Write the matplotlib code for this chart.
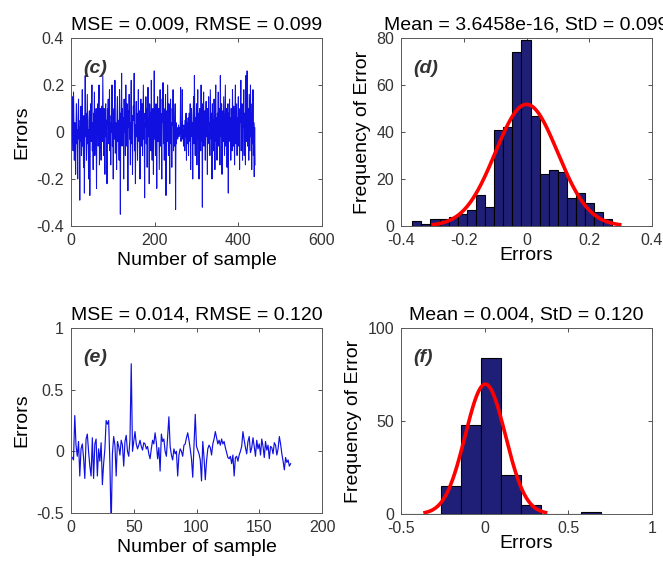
import numpy as np
import matplotlib
matplotlib.use("Agg")
import matplotlib.pyplot as plt

plt.rcParams['font.family'] = ['Liberation Sans', 'DejaVu Sans']
plt.rcParams['axes.unicode_minus'] = False

# ---------------- data ----------------
# (c) errors, 440 samples
c_err = [
    0.17, -0.02, 0.15, 0.01, -0.08, 0.17, 0.02, -0.12, 0.04, -0.01,
    -0.18, 0.03, 0.12, -0.05, 0.01, -0.20, 0.06, 0.14, -0.03, 0.02,
    -0.29, 0.05, -0.04, 0.11, -0.10, 0.02, 0.18, -0.06, 0.00, -0.15,
    0.07, -0.26, 0.04, 0.24, -0.02, 0.08, -0.12, 0.03, 0.16, -0.05,
    0.01, -0.20, 0.05, 0.09, -0.27, 0.03, 0.12, -0.04, 0.06, 0.20,
    -0.08, 0.04, -0.16, 0.08, 0.02, 0.17, -0.10, 0.06, -0.02, 0.10,
    -0.24, 0.07, 0.00, 0.12, -0.06, 0.09, 0.20, -0.14, 0.05, 0.10,
    0.02, -0.12, 0.11, 0.06, -0.04, 0.24, 0.08, -0.10, 0.10, 0.03,
    -0.18, 0.09, 0.12, -0.02, 0.05, -0.22, 0.10, 0.04, 0.14, -0.05,
    0.02, 0.18, -0.08, 0.04, -0.14, 0.07, 0.00, 0.20, -0.06, 0.03,
    -0.20, 0.06, 0.10, -0.03, 0.22, -0.09, 0.04, 0.01, -0.16, 0.08,
    0.15, -0.04, 0.03, 0.05, -0.12, 0.18, 0.02, -0.35, 0.08, 0.04,
    0.25, -0.06, 0.10, -0.02, 0.06, -0.20, 0.14, 0.00, 0.08, -0.10,
    0.20, 0.03, -0.06, 0.12, 0.05, -0.25, 0.09, 0.02, 0.16, -0.03,
    0.04, -0.14, 0.10, 0.22, -0.05, 0.07, -0.18, 0.02, 0.11, 0.05,
    0.25, -0.08, 0.03, -0.22, 0.06, 0.13, -0.02, 0.08, -0.12, 0.04,
    0.18, -0.04, 0.02, 0.09, -0.20, 0.05, 0.14, -0.06, 0.00, 0.12,
    -0.10, 0.06, 0.20, -0.03, 0.04, -0.28, 0.08, 0.02, 0.15, -0.05,
    0.10, -0.15, 0.04, 0.19, -0.02, 0.06, -0.22, 0.12, 0.03, 0.08,
    -0.08, 0.22, 0.02, -0.12, 0.05, 0.10, -0.18, 0.04, 0.26, -0.03,
    0.06, -0.10, 0.12, 0.02, -0.24, 0.08, 0.15, -0.04, 0.05, 0.10,
    -0.16, 0.03, 0.18, -0.06, 0.08, 0.02, -0.20, 0.14, 0.04, 0.21,
    -0.05, 0.10, -0.12, 0.06, 0.03, 0.16, -0.27, 0.05, 0.09, -0.04,
    0.20, 0.06, -0.10, 0.12, 0.02, -0.22, 0.08, 0.14, -0.05, 0.04,
    -0.15, 0.10, 0.03, 0.18, -0.08, 0.05, -0.06, 0.02, 0.12, -0.33,
    0.04, -0.05, 0.02, 0.01, -0.03, 0.00, 0.03, -0.02, 0.02, -0.01,
    0.01, 0.19, -0.04, 0.02, -0.02, 0.18, -0.03, 0.01, -0.06, 0.03,
    0.02, -0.08, 0.05, -0.02, 0.08, -0.12, 0.04, 0.00, -0.05, 0.06,
    -0.10, 0.08, 0.02, -0.04, 0.12, -0.16, 0.05, 0.10, -0.02, 0.04,
    -0.20, 0.07, 0.15, -0.05, 0.24, 0.03, -0.10, 0.06, 0.00, 0.12,
    -0.14, 0.05, 0.18, -0.03, 0.08, -0.20, 0.02, 0.10, 0.04, -0.08,
    0.20, -0.04, 0.06, -0.32, 0.12, 0.02, 0.17, -0.06, 0.04, 0.09,
    -0.12, 0.05, 0.13, -0.02, 0.07, -0.18, 0.10, 0.03, 0.15, -0.05,
    0.04, -0.10, 0.18, 0.06, -0.03, 0.08, -0.20, 0.12, 0.02, 0.05,
    -0.08, 0.14, 0.03, -0.16, 0.10, 0.20, -0.04, 0.06, -0.12, 0.08,
    0.02, 0.17, -0.06, 0.04, 0.10, -0.14, 0.24, 0.05, -0.02, 0.12,
    -0.18, 0.06, 0.09, -0.04, 0.15, 0.02, -0.10, 0.07, 0.20, -0.06,
    0.04, 0.10, -0.15, 0.05, 0.12, -0.26, 0.08, 0.02, 0.14, -0.04,
    0.06, -0.12, 0.10, 0.04, -0.08, 0.18, 0.02, -0.06, 0.11, 0.03,
    -0.14, 0.07, 0.20, -0.05, 0.04, 0.12, -0.10, 0.06, 0.00, 0.15,
    -0.06, 0.08, -0.16, 0.10, 0.04, 0.22, -0.08, 0.05, 0.12, -0.12,
    0.06, 0.02, 0.18, -0.10, 0.08, 0.03, -0.14, 0.24, 0.05, -0.04,
    0.26, -0.06, 0.10, 0.02, -0.12, 0.16, 0.04, -0.08, 0.20, -0.02,
    0.08, -0.16, 0.12, -0.05, 0.18, -0.10, 0.04, -0.19, 0.02, -0.14,
]

# (e) errors, 175 samples
e_err = [
    -0.05, -0.07, 0.29, 0.05, -0.04, 0.08, -0.20, 0.02, 0.06, -0.05,
    -0.22, 0.10, 0.14, 0.00, -0.12, -0.20, 0.11, -0.22, 0.06, 0.10,
    -0.20, 0.02, -0.08, 0.07, -0.27, -0.10, 0.02, 0.25, 0.22, 0.25,
    -0.10, -0.62, -0.02, 0.12, 0.05, -0.20, 0.08, 0.04, -0.03, 0.09,
    0.05, -0.12, 0.08, 0.13, 0.00, -0.04, 0.10, 0.71, 0.00, 0.08,
    0.16, 0.06, 0.02, 0.05, 0.09, 0.04, 0.01, 0.07, 0.06, 0.02,
    0.04, -0.02, -0.06, 0.02, 0.09, 0.06, 0.15, 0.07, -0.06, 0.03,
    -0.16, 0.14, 0.08, 0.10, 0.00, -0.04, 0.12, 0.28, 0.04, -0.03,
    -0.07, 0.02, -0.02, 0.00, -0.20, -0.03, 0.02, 0.00, -0.04, 0.05,
    0.06, 0.11, 0.15, 0.09, 0.02, -0.06, -0.21, 0.05, 0.30, 0.04,
    0.01, -0.02, -0.07, -0.24, 0.08, -0.05, -0.23, -0.08, 0.02, 0.05,
    0.03, -0.03, 0.06, 0.10, 0.16, 0.11, 0.06, 0.09, 0.05, 0.10,
    0.06, 0.08, 0.03, -0.01, -0.05, -0.06, -0.04, -0.10, -0.03, -0.20,
    -0.05, -0.04, -0.08, -0.03, 0.00, 0.04, 0.16, 0.09, 0.03, -0.02,
    0.08, 0.12, -0.01, 0.03, 0.11, 0.04, -0.04, 0.09, 0.02, 0.06,
    -0.03, 0.10, 0.04, -0.05, 0.08, 0.01, 0.05, -0.06, 0.04, 0.03,
    -0.02, 0.07, 0.05, -0.03, 0.02, 0.12, 0.06, -0.02, -0.08, -0.15,
    -0.05, -0.09, -0.07, -0.12, -0.10,
]

# (d) histogram of (c) errors
d_edges = np.linspace(-0.364, 0.274, 23)
d_counts = [2, 1, 3, 3, 4, 5, 7, 13, 8, 41, 42, 74, 79,
            47, 22, 24, 23, 12, 14, 10, 6, 3]
d_mean, d_std = 3.6458e-16, 0.099

# (f) histogram of (e) errors
f_edges = np.linspace(-0.623, 0.697, 12)
f_counts = [1, 0, 0, 15, 48, 84, 21, 5, 0, 0, 1]
f_mean, f_std = 0.004, 0.120

titles = ["MSE = 0.009, RMSE = 0.099", "Mean = 3.6458e-16, StD = 0.099",
          "MSE = 0.014, RMSE = 0.120", "Mean = 0.004, StD = 0.120"]
panel_labels = ["(c)", "(d)", "(e)", "(f)"]

# ---------------- figure ----------------
W, H = 663, 570
fig = plt.figure(figsize=(W / 100, H / 100), dpi=100)

def frac(l, t, r, b):
    return [l / W, 1 - b / H, (r - l) / W, (b - t) / H]

ax_c = fig.add_axes(frac(71, 38, 322, 226))
ax_d = fig.add_axes(frac(401, 38, 652, 226))
ax_e = fig.add_axes(frac(71, 328, 322, 513))
ax_f = fig.add_axes(frac(401, 328, 652, 514))

GRAY = '#333333'
LINE_BLUE = '#1010e0'
BAR_COL = '#1f1f78'

def style(ax):
    ax.tick_params(direction='in', top=True, right=True, length=3,
                   width=0.6, labelsize=11.5, colors=GRAY, labelcolor=GRAY, pad=5)
    for s in ax.spines.values():
        s.set_color('#5a5a5a')
        s.set_linewidth(0.7)

# (c)
ax_c.plot(np.arange(1, len(c_err) + 1), c_err, color=LINE_BLUE, lw=0.75)
ax_c.set_xlim(0, 600)
ax_c.set_ylim(-0.4, 0.4)
ax_c.set_xticks([0, 200, 400, 600])
ax_c.set_yticks([-0.4, -0.2, 0, 0.2, 0.4])
ax_c.set_yticklabels(['-0.4', '-0.2', '0', '0.2', '0.4'])
ax_c.set_xlabel("Number of sample", fontsize=14, labelpad=3)
ax_c.set_ylabel("Errors", fontsize=14, labelpad=4)

# (e)
ax_e.plot(np.arange(1, len(e_err) + 1), e_err, color=LINE_BLUE, lw=0.85)
ax_e.set_xlim(0, 200)
ax_e.set_ylim(-0.5, 1)
ax_e.set_xticks([0, 50, 100, 150, 200])
ax_e.set_yticks([-0.5, 0, 0.5, 1])
ax_e.set_yticklabels(['-0.5', '0', '0.5', '1'])
ax_e.set_xlabel("Number of sample", fontsize=14, labelpad=3)
ax_e.set_ylabel("Errors", fontsize=14, labelpad=4)

def hist_panel(ax, edges, counts, mu, sd):
    edges = np.asarray(edges)
    w = np.diff(edges)
    ax.bar(edges[:-1], counts, width=w, align='edge', color=BAR_COL,
           edgecolor='black', linewidth=0.8, zorder=3)
    n = float(np.sum(counts))
    xs = np.linspace(mu - 3 * sd, mu + 3 * sd, 200)
    ys = n * w[0] * np.exp(-0.5 * ((xs - mu) / sd) ** 2) / (sd * np.sqrt(2 * np.pi))
    ax.plot(xs, ys, color='red', lw=2.6, zorder=4)
    ax.set_ylabel("Frequency of Error", fontsize=14, labelpad=4)
    ax.set_xlabel("Errors", fontsize=14, labelpad=-1)

hist_panel(ax_d, d_edges, d_counts, d_mean, d_std)
ax_d.set_xlim(-0.4, 0.4)
ax_d.set_ylim(0, 80)
ax_d.set_xticks([-0.4, -0.2, 0, 0.2, 0.4])
ax_d.set_xticklabels(['-0.4', '-0.2', '0', '0.2', '0.4'])
ax_d.set_yticks([0, 20, 40, 60, 80])

hist_panel(ax_f, f_edges, f_counts, f_mean, f_std)
ax_f.set_xlim(-0.5, 1)
ax_f.set_ylim(0, 100)
ax_f.set_xticks([-0.5, 0, 0.5, 1])
ax_f.set_xticklabels(['-0.5', '0', '0.5', '1'])
ax_f.set_yticks([0, 50, 100])

for ax, t, pl in zip([ax_c, ax_d, ax_e, ax_f], titles, panel_labels):
    style(ax)
    ax.set_title(t, fontsize=14, pad=6, color='black')
    ax.text(0.05, 0.84, pl, transform=ax.transAxes, fontsize=14,
            fontweight='bold', fontstyle='italic', color='#333333',
            ha='left', va='center', zorder=5)

fig.savefig("out.png", dpi=100)
